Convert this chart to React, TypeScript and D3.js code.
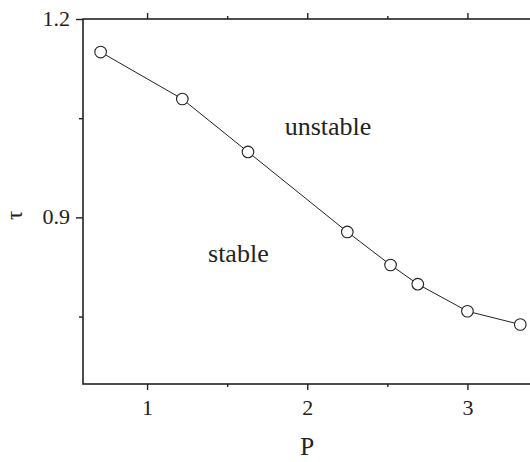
import React, { useEffect, useRef } from "react";
import * as d3 from "d3";

// critical delay vs. P
const pValues = [0.71, 1.22, 1.63, 2.25, 2.52, 2.69, 3.0, 3.33];
const tauValues = [1.15, 1.079, 0.999, 0.878, 0.828, 0.799, 0.758, 0.738];

const xMajor = [1, 2, 3];
const xMinor = [1.5, 2.5];
const yMajor = [0.9, 1.2];
const yMinor = [0.75, 1.05];

const regionLabels = [
  { text: "unstable", p: 2.13, tau: 1.025 },
  { text: "stable", p: 1.57, tau: 0.833 },
];

const W = 530;
const H = 462;
const FONT = "Liberation Serif, Times New Roman, DejaVu Serif, serif";
const INK = "#222";

const App = () => {
  const ref = useRef<SVGSVGElement>(null);

  useEffect(() => {
    const svg = d3.select(ref.current);
    svg.selectAll("*").remove();

    const x = d3.scaleLinear().domain([0.6, 3.4]).range([83, 531.5]);
    const y = d3.scaleLinear().domain([0.648, 1.2]).range([384, 19]);

    const [x0, x1] = x.range();
    const [yb, yt] = y.range();

    // ticks
    const addAxis = (axis: any, tx: number, ty: number) => {
      const g = svg.append("g").attr("transform", `translate(${tx},${ty})`).call(axis);
      g.attr("font-family", FONT).attr("font-size", 22);
      g.select(".domain").remove();
      g.selectAll("line").attr("stroke", INK).attr("stroke-width", 1.4);
      g.selectAll("text").attr("fill", INK);
      return g;
    };

    addAxis(d3.axisBottom(x).tickValues(xMajor).tickSize(6).tickPadding(9).tickFormat(d3.format("d")), 0, yb)
      .selectAll("text").attr("dy", "0.71em");
    addAxis(d3.axisBottom(x).tickValues(xMinor).tickSize(3).tickFormat(() => ""), 0, yb);
    addAxis(d3.axisTop(x).tickValues(xMajor).tickSize(6).tickFormat(() => ""), 0, yt);
    addAxis(d3.axisTop(x).tickValues(xMinor).tickSize(3).tickFormat(() => ""), 0, yt);
    addAxis(d3.axisLeft(y).tickValues(yMajor).tickSize(7).tickPadding(6).tickFormat(d3.format(".1f")), x0, 0)
      .selectAll("text").attr("dy", "0.3em");
    addAxis(d3.axisLeft(y).tickValues(yMinor).tickSize(4).tickFormat(() => ""), x0, 0);

    // frame
    svg.append("rect")
      .attr("x", x0)
      .attr("y", yt)
      .attr("width", x1 - x0)
      .attr("height", yb - yt)
      .attr("fill", "none")
      .attr("stroke", INK)
      .attr("stroke-width", 1.6);

    // axis titles
    svg.append("text")
      .attr("x", (x(1) + x(3)) / 2)
      .attr("y", 455)
      .attr("text-anchor", "middle")
      .attr("fill", INK)
      .attr("font-family", FONT)
      .attr("font-size", 25)
      .text("P");

    svg.append("text")
      .attr("transform", `translate(22,${y(0.9) - 2}) rotate(-90)`)
      .attr("text-anchor", "middle")
      .attr("fill", INK)
      .attr("font-family", FONT)
      .attr("font-size", 23)
      .text("τ");

    // region labels
    svg.selectAll(".region")
      .data(regionLabels)
      .enter()
      .append("text")
      .attr("x", (d) => x(d.p))
      .attr("y", (d) => y(d.tau))
      .attr("text-anchor", "middle")
      .attr("fill", INK)
      .attr("font-family", FONT)
      .attr("font-size", 26)
      .text((d) => d.text);

    const points = pValues.map((p, i) => ({ p, tau: tauValues[i] }));

    const line = d3.line<{ p: number; tau: number }>()
      .x((d) => x(d.p))
      .y((d) => y(d.tau));

    svg.append("path")
      .datum(points)
      .attr("fill", "none")
      .attr("stroke", INK)
      .attr("stroke-width", 1)
      .attr("d", line);

    svg.selectAll(".pt")
      .data(points)
      .enter()
      .append("circle")
      .attr("cx", (d) => x(d.p))
      .attr("cy", (d) => y(d.tau))
      .attr("r", 5.8)
      .attr("fill", "#fff")
      .attr("stroke", INK)
      .attr("stroke-width", 1.1);
  }, []);

  return (
    <svg
      ref={ref}
      width={W}
      height={H}
      fontFamily={FONT}
      style={{ position: "absolute", left: 0, top: 0, background: "#fff" }}
    />
  );
};

export default App;
